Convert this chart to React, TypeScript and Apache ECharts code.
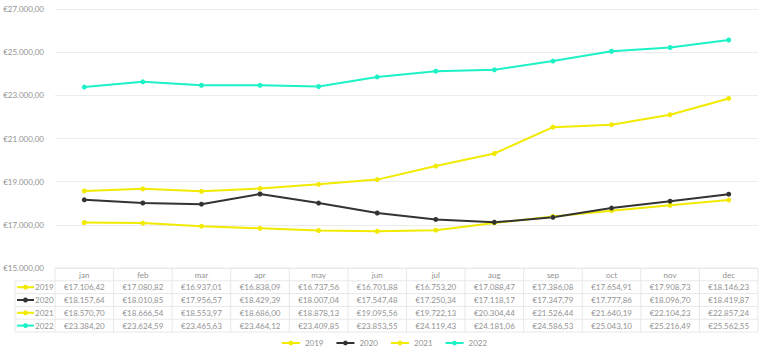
import React, { useEffect, useRef } from "react";
import * as echarts from "echarts";

const months = ["jan", "feb", "mar", "apr", "may", "jun", "jul", "aug", "sep", "oct", "nov", "dec"];
const seriesNames = ["2019", "2020", "2021", "2022"];
const seriesColors = ["#F2EA00", "#333333", "#F2EA00", "#1CF2C6"];
const v2019 = [17106.42, 17080.82, 16937.01, 16838.09, 16737.56, 16701.88, 16753.2, 17088.47, 17386.08, 17654.91, 17908.73, 18146.23];
const v2020 = [18157.64, 18010.85, 17956.57, 18429.39, 18007.04, 17547.48, 17250.34, 17118.17, 17347.79, 17777.86, 18096.7, 18419.87];
const v2021 = [18570.7, 18666.54, 18553.97, 18686.0, 18878.13, 19095.56, 19722.13, 20304.44, 21526.44, 21640.19, 22104.23, 22857.24];
const v2022 = [23384.2, 23624.59, 23465.63, 23464.12, 23409.85, 23853.55, 24119.43, 24181.06, 24586.53, 25043.1, 25216.49, 25562.55];
const allValues = [v2019, v2020, v2021, v2022];

const FONT = "Lato, 'Open Sans', sans-serif";
const TEXT = "#929292";

function fmt(v: number): string {
  const fixed = v.toFixed(2);
  const [intPart, dec] = fixed.split(".");
  const withSep = intPart.replace(/\B(?=(\d{3})+(?!\d))/g, ".");
  return "€" + withSep + "," + dec;
}

export default function App() {
  const ref = useRef<HTMLDivElement>(null);
  useEffect(() => {
    document.body.style.margin = "0";
    const chart = echarts.init(ref.current!, null, { renderer: "svg" });
    const gridLeft = 55;
    const gridRight = 10;
    const gridTop = 9;
    const gridBottom = 89;
    chart.setOption({
      animation: false,
      textStyle: { fontFamily: FONT },
      grid: { left: gridLeft, right: gridRight, top: gridTop, bottom: gridBottom, containLabel: false },
      legend: {
        bottom: 5,
        left: "center",
        itemWidth: 18,
        itemHeight: 6,
        itemGap: 12,
        textStyle: { fontSize: 8, color: TEXT, fontFamily: FONT },
        data: seriesNames,
      },
      xAxis: {
        type: "category",
        data: months,
        boundaryGap: true,
        axisLine: { show: false },
        axisTick: { show: false },
        axisLabel: { fontSize: 8, color: TEXT, margin: 3, fontFamily: FONT },
      },
      yAxis: {
        type: "value",
        min: 15000,
        max: 27000,
        interval: 2000,
        axisLine: { show: false },
        axisTick: { show: false },
        splitLine: { lineStyle: { color: "#ececec", width: 1 } },
        axisLabel: { fontSize: 8, color: TEXT, margin: 11, formatter: (v: number) => fmt(v), fontFamily: FONT },
      },
      series: seriesNames.map((n, i) => ({
        name: n,
        type: "line",
        data: allValues[i],
        symbol: "circle",
        symbolSize: 5,
        itemStyle: { color: seriesColors[i] },
        lineStyle: { color: seriesColors[i], width: 2 },
      })),
    });

    const W = chart.getWidth();
    const H = chart.getHeight();
    const tableLeft = gridLeft;
    const tableRight = W - gridRight;
    const tableTop = H - gridBottom;
    const colW = (tableRight - tableLeft) / months.length;
    const rowH = 12.8;
    const labelLeft = 15;
    const border = "#e8e8e8";
    const els: any[] = [];
    els.push({ type: "line", shape: { x1: tableLeft, y1: tableTop, x2: tableRight, y2: tableTop }, style: { stroke: border, lineWidth: 1 }, silent: true });
    for (let r = 1; r <= seriesNames.length + 1; r++) {
      const y = tableTop + r * rowH;
      els.push({ type: "line", shape: { x1: labelLeft, y1: y, x2: tableRight, y2: y }, style: { stroke: border, lineWidth: 1 }, silent: true });
    }
    const bottomY = tableTop + (seriesNames.length + 1) * rowH;
    for (let c = 0; c <= months.length; c++) {
      const x = tableLeft + c * colW;
      els.push({ type: "line", shape: { x1: x, y1: tableTop, x2: x, y2: bottomY }, style: { stroke: border, lineWidth: 1 }, silent: true });
    }
    els.push({ type: "line", shape: { x1: labelLeft, y1: tableTop + rowH, x2: labelLeft, y2: bottomY }, style: { stroke: border, lineWidth: 1 }, silent: true });
    seriesNames.forEach((n, r) => {
      const cy = tableTop + (r + 1) * rowH + rowH / 2;
      els.push({ type: "line", shape: { x1: labelLeft + 2, y1: cy, x2: labelLeft + 19, y2: cy }, style: { stroke: seriesColors[r], lineWidth: 2 }, silent: true });
      els.push({ type: "circle", shape: { cx: labelLeft + 10.5, cy, r: 2.5 }, style: { fill: seriesColors[r] }, silent: true });
      els.push({ type: "text", x: labelLeft + 20, y: cy, style: { text: n, fontSize: 8, fill: TEXT, fontFamily: FONT, align: "left", verticalAlign: "middle" }, silent: true });
      allValues[r].forEach((v, c) => {
        const px = chart.convertToPixel({ xAxisIndex: 0 }, c) as number;
        els.push({ type: "text", x: px, y: cy, style: { text: fmt(v), fontSize: 8, fill: TEXT, fontFamily: FONT, align: "center", verticalAlign: "middle" }, silent: true });
      });
    });
    chart.setOption({ graphic: { elements: els } });
    return () => chart.dispose();
  }, []);
  return <div ref={ref} style={{ width: 768, height: 357 }} />;
}
